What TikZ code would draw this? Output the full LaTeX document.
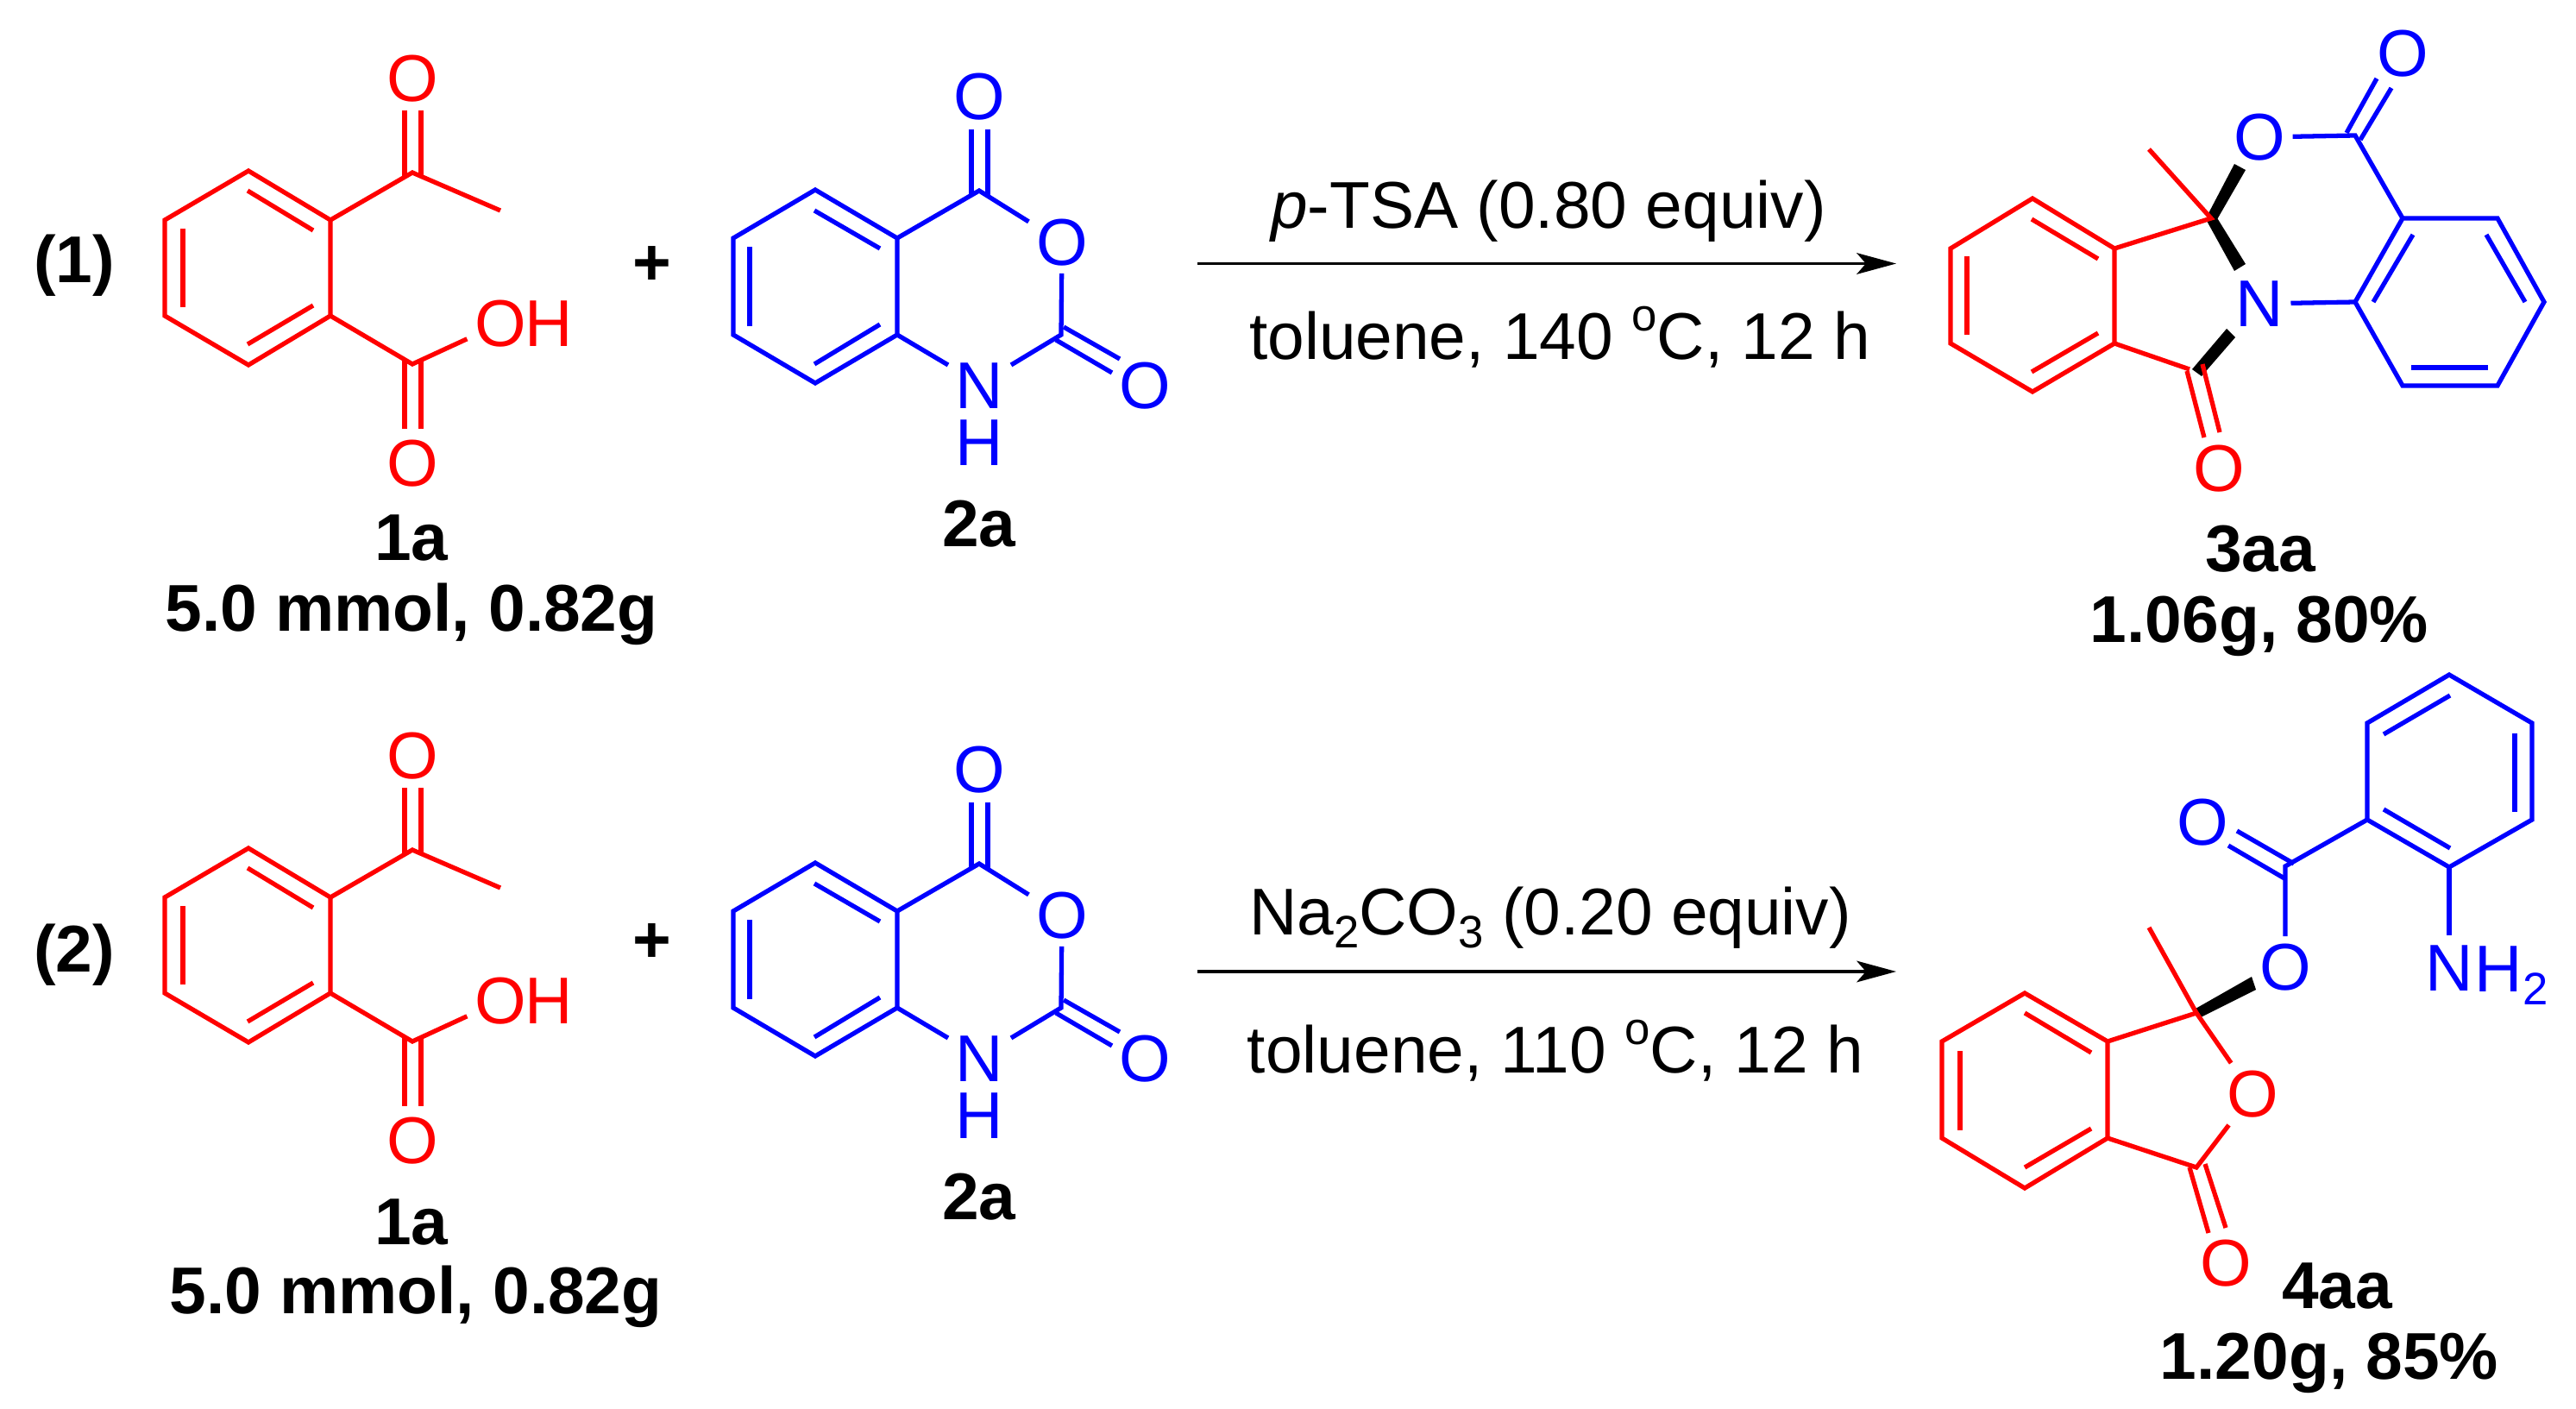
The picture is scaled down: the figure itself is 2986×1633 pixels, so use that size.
\documentclass[tikz,border=0pt]{standalone}
\usepackage{fontspec}
\setmainfont{Liberation Sans}
\usetikzlibrary{arrows.meta}
\newcommand{\chemfont}{\fontsize{21.8}{26}\selectfont}
\newcommand{\lowtxt}[1]{\raisebox{-.2em}{\fontsize{15}{15}\selectfont #1}}
\newcommand{\hightxt}[1]{\raisebox{.42em}{\fontsize{15}{15}\selectfont #1}}
\tikzset{
  rbond/.style={draw=red,line width=1.5pt},
  bbond/.style={draw=blue,line width=1.5pt},
  ratom/.style={text=red,font=\chemfont,inner sep=2.3pt},
  batom/.style={text=blue,font=\chemfont,inner sep=2.3pt},
  label/.style={font=\chemfont\bfseries,anchor=base,inner sep=0pt},
  cond/.style={font=\chemfont,anchor=base,inner sep=0pt},
  wedge/.style={fill=black},
  rxn/.style={draw=black,line width=1.05pt,-{Stealth[length=13pt,width=7pt,inset=3pt]}}
}
\begin{document}
\begin{tikzpicture}[x=0.01cm,y=-0.01cm]
\useasboundingbox (0,0) rectangle (2986,1633);
\node[font=\chemfont\bfseries,inner sep=0pt] (n1) at (86,308) {(1)};
\coordinate (a1) at (288,198); \coordinate (a2) at (383,255); \coordinate (a3) at (383,366);
\coordinate (a4) at (288,423); \coordinate (a5) at (191,366); \coordinate (a6) at (191,255);
\coordinate (a7) at (478,200); \coordinate (a8) at (580,244); \coordinate (a9) at (478,422);
\node[ratom] (ao1) at (478,91) {O};
\node[ratom] (ao2) at (580,375) {O};
\node[ratom,inner sep=0pt] (ah) at (636,375) {H};
\node[ratom] (ao3) at (478,537) {O};
\draw[rbond] (a1) -- (a2) -- (a3) -- (a4) -- (a5) -- (a6) -- cycle;
\draw[rbond] (287,221) -- (363,267);
\draw[rbond] (287,399) -- (363,354);
\draw[rbond] (212,265) -- (212,356);
\draw[rbond] (a2) -- (a7) -- (a8);
\draw[rbond] (a3) -- (a9) -- (ao2);
\draw[rbond] (469,206) -- (469,128);
\draw[rbond] (488,206) -- (488,128);
\draw[rbond] (469,416) -- (469,497);
\draw[rbond] (488,416) -- (488,497);
\node[label] (al1) at (477,649) {1a};
\node[label] (al2) at (477,731) {5.0 mmol, 0.82g};
\node[font=\chemfont\bfseries,inner sep=0pt] (p1) at (756,308) {+};
\coordinate (b1) at (945,220); \coordinate (b2) at (1040,276); \coordinate (b3) at (1040,388);
\coordinate (b4) at (945,444); \coordinate (b5) at (850,388); \coordinate (b6) at (850,276);
\coordinate (b7) at (1135,221); \coordinate (b8) at (1230,388);
\node[batom] (bo1) at (1135,112) {O};
\node[batom] (bo2) at (1231,281) {O};
\node[batom] (bo3) at (1327,447) {O};
\node[batom,inner sep=1pt] (bn) at (1135,447) {N};
\node[batom,inner sep=0pt] (bh) at (1135,513) {H};
\draw[bbond] (b1) -- (b2) -- (b3) -- (b4) -- (b5) -- (b6) -- cycle;
\draw[bbond] (944,244) -- (1020,288);
\draw[bbond] (944,422) -- (1020,376);
\draw[bbond] (869,286) -- (869,378);
\draw[bbond] (b2) -- (b7) -- (bo2) -- (b8) -- (1172,423);
\draw[bbond] (1099,423) -- (b3);
\draw[bbond] (1126,226) -- (1126,150);
\draw[bbond] (1145,226) -- (1145,150);
\draw[bbond] (1233,379) -- (1298,416);
\draw[bbond] (1224,394) -- (1289,432);
\node[label] (bl1) at (1135,633) {2a};
\coordinate (r1s) at (1388,305.5);
\coordinate (r1e) at (2198,305.5);
\draw[rxn] (r1s) -- (r1e);
\node[cond] (r1t) at (1795,264) {\textit{p}-TSA (0.80 equiv)};
\node[cond] (r1b) at (1808,416) {toluene, 140 \hightxt{o}C, 12 h};
\coordinate (c1) at (2356,230); \coordinate (c2) at (2451,288); \coordinate (c3) at (2451,398);
\coordinate (c4) at (2356,454); \coordinate (c5) at (2261,398); \coordinate (c6) at (2261,288);
\coordinate (c7) at (2563,253); \coordinate (c8) at (2491,173); \coordinate (c9) at (2538,428);
\coordinate (d1) at (2785,253); \coordinate (d2) at (2895,253); \coordinate (d3) at (2949,350);
\coordinate (d4) at (2895,447); \coordinate (d5) at (2785,447); \coordinate (d6) at (2730,350);
\coordinate (d7) at (2730,157);
\node[ratom] (co1) at (2572,543) {O};
\node[batom] (do1) at (2619,159) {O};
\node[batom] (do2) at (2785,62) {O};
\node[batom] (dn) at (2619,352) {N};
\fill[wedge] (2558,251) -- (2590,190) -- (2603,197) -- (2569,256) -- cycle;
\fill[wedge] (2558,256) -- (2590,314) -- (2603,306) -- (2569,251) -- cycle;
\fill[wedge] (2541,428) -- (2581,381) -- (2591,391) -- (2552,436) -- cycle;
\draw[rbond] (c1) -- (c2) -- (c3) -- (c4) -- (c5) -- (c6) -- cycle;
\draw[rbond] (2355,254) -- (2432,300);
\draw[rbond] (2355,431) -- (2432,386);
\draw[rbond] (2280,297) -- (2280,388);
\draw[rbond] (c2) -- (c7) -- (c8);
\draw[rbond] (c3) -- (c9);
\draw[rbond] (2535,430) -- (2555,507);
\draw[rbond] (2553,422) -- (2573,501);
\draw[bbond] (d1) -- (d2) -- (d3) -- (d4) -- (d5) -- (d6) -- cycle;
\draw[bbond] (2797,272) -- (2751,350);
\draw[bbond] (2882,272) -- (2927,350);
\draw[bbond] (2795,426) -- (2884,426);
\draw[bbond] (dn) -- (d6);
\draw[bbond] (do1) -- (d7) -- (d1);
\draw[bbond] (2720,154) -- (2755,91);
\draw[bbond] (2736,162) -- (2772,102);
\node[label] (cl1) at (2620,662) {3aa};
\node[label] (cl2) at (2619,744) {1.06g, 80\%};
\node[font=\chemfont\bfseries,inner sep=0pt] (n2) at (86,1107) {(2)};
\coordinate (e1) at (288,983); \coordinate (e2) at (383,1040); \coordinate (e3) at (383,1151);
\coordinate (e4) at (288,1208); \coordinate (e5) at (191,1151); \coordinate (e6) at (191,1040);
\coordinate (e7) at (478,985); \coordinate (e8) at (580,1029); \coordinate (e9) at (478,1207);
\node[ratom] (eo1) at (478,876) {O};
\node[ratom] (eo2) at (580,1160) {O};
\node[ratom,inner sep=0pt] (eh) at (636,1160) {H};
\node[ratom] (eo3) at (478,1322) {O};
\draw[rbond] (e1) -- (e2) -- (e3) -- (e4) -- (e5) -- (e6) -- cycle;
\draw[rbond] (287,1006) -- (363,1052);
\draw[rbond] (287,1184) -- (363,1139);
\draw[rbond] (212,1050) -- (212,1141);
\draw[rbond] (e2) -- (e7) -- (e8);
\draw[rbond] (e3) -- (e9) -- (eo2);
\draw[rbond] (469,991) -- (469,913);
\draw[rbond] (488,991) -- (488,913);
\draw[rbond] (469,1201) -- (469,1282);
\draw[rbond] (488,1201) -- (488,1282);
\node[label] (el1) at (477,1442) {1a};
\node[label] (el2) at (482,1522) {5.0 mmol, 0.82g};
\node[font=\chemfont\bfseries,inner sep=0pt] (p2) at (756,1093) {+};
\coordinate (f1) at (945,1000); \coordinate (f2) at (1040,1056); \coordinate (f3) at (1040,1168);
\coordinate (f4) at (945,1224); \coordinate (f5) at (850,1168); \coordinate (f6) at (850,1056);
\coordinate (f7) at (1135,1001); \coordinate (f8) at (1230,1168);
\node[batom] (fo1) at (1135,892) {O};
\node[batom] (fo2) at (1231,1061) {O};
\node[batom] (fo3) at (1327,1227) {O};
\node[batom,inner sep=1pt] (fn) at (1135,1227) {N};
\node[batom,inner sep=0pt] (fh) at (1135,1293) {H};
\draw[bbond] (f1) -- (f2) -- (f3) -- (f4) -- (f5) -- (f6) -- cycle;
\draw[bbond] (944,1024) -- (1020,1068);
\draw[bbond] (944,1202) -- (1020,1156);
\draw[bbond] (869,1066) -- (869,1158);
\draw[bbond] (f2) -- (f7) -- (fo2) -- (f8) -- (1172,1203);
\draw[bbond] (1099,1203) -- (f3);
\draw[bbond] (1126,1006) -- (1126,930);
\draw[bbond] (1145,1006) -- (1145,930);
\draw[bbond] (1233,1159) -- (1298,1196);
\draw[bbond] (1224,1174) -- (1289,1212);
\node[label] (fl1) at (1135,1413) {2a};
\coordinate (r2s) at (1388,1126);
\coordinate (r2e) at (2198,1126);
\draw[rxn] (r2s) -- (r2e);
\node[cond] (r2t) at (1797,1083) {Na\lowtxt{2}CO\lowtxt{3} (0.20 equiv)};
\node[cond] (r2b) at (1803,1243) {toluene, 110 \hightxt{o}C, 12 h};
\coordinate (g1) at (2347,1151); \coordinate (g2) at (2443,1207); \coordinate (g3) at (2443,1319);
\coordinate (g4) at (2347,1377); \coordinate (g5) at (2251,1319); \coordinate (g6) at (2251,1207);
\coordinate (g7) at (2546,1174); \coordinate (g8) at (2491,1075); \coordinate (g9) at (2546,1353);
\coordinate (h1) at (2744,950); \coordinate (h2) at (2744,838); \coordinate (h3) at (2839,782);
\coordinate (h4) at (2935,838); \coordinate (h5) at (2935,950); \coordinate (h6) at (2839,1005);
\coordinate (h7) at (2649,1004);
\node[ratom] (go1) at (2611,1268) {O};
\node[ratom] (go2) at (2580,1464) {O};
\node[batom] (ho1) at (2649,1121) {O};
\node[batom] (ho2) at (2553,953) {O};
\node[batom,inner sep=0pt] (hn) at (2839,1122) {N};
\node[batom,anchor=base west,inner sep=0pt] (hh) at (2868,1149) {H\lowtxt{2}};
\fill[wedge] (2545,1169) -- (2610,1132) -- (2615,1147) -- (2549,1180) -- cycle;
\draw[rbond] (g1) -- (g2) -- (g3) -- (g4) -- (g5) -- (g6) -- cycle;
\draw[rbond] (2347,1174) -- (2424,1220);
\draw[rbond] (2347,1353) -- (2424,1308);
\draw[rbond] (2272,1218) -- (2272,1310);
\draw[rbond] (g2) -- (g7) -- (g8);
\draw[rbond] (g7) -- (go1) -- (g9) -- (g3);
\draw[rbond] (2538,1353) -- (2560,1429);
\draw[rbond] (2556,1349) -- (2580,1423);
\draw[bbond] (h1) -- (h2) -- (h3) -- (h4) -- (h5) -- (h6) -- cycle;
\draw[bbond] (2763,851) -- (2840,806);
\draw[bbond] (2915,850) -- (2915,941);
\draw[bbond] (2763,938) -- (2840,983);
\draw[bbond] (h1) -- (h7) -- (ho1);
\draw[bbond] (h6) -- (2839,1084);
\draw[bbond] (2593,963) -- (2659,1001);
\draw[bbond] (2583,980) -- (2648,1018);
\node[label] (gl1) at (2709,1516) {4aa};
\node[label] (gl2) at (2700,1598) {1.20g, 85\%};
\end{tikzpicture}
\end{document}
